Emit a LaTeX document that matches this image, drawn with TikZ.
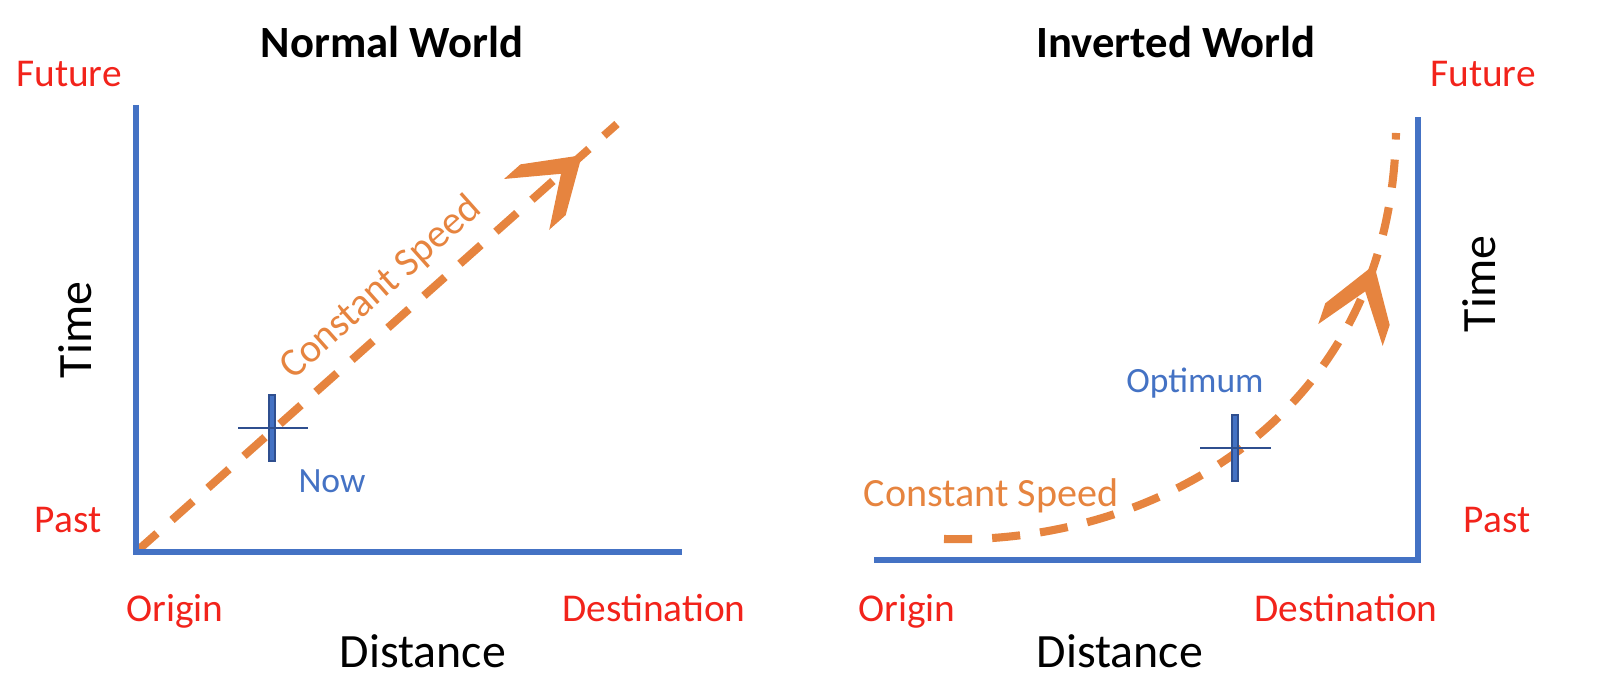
\documentclass[tikz,border=0pt]{standalone}
\usepackage{fontspec}
\setmainfont{Carlito}
\usetikzlibrary{decorations.markings}
\definecolor{axisblue}{HTML}{4472C4}
\definecolor{darkblue}{HTML}{2F4F8F}
\definecolor{speedorange}{HTML}{E6843F}
\definecolor{markred}{HTML}{F2231B}

\begin{document}
\begin{tikzpicture}[x=0.01cm, y=-0.01cm,
    axisline/.style={draw=axisblue, line width=1.6pt},
    speedline/.style={draw=speedorange, line width=2.3pt, dash pattern=on 8pt off 5.7pt},
    chev/.style={postaction={decorate, decoration={markings, mark=at position #1 with
        {\fill[speedorange, solid] (2,0) -- (-50,34) -- (-72,34) -- (-26,0) -- (-72,-34) -- (-50,-34) -- cycle;}}}},
    markbar/.style={rectangle, fill=axisblue, draw=darkblue, line width=0.5pt,
                    minimum width=0.06cm, minimum height=0.66cm, inner sep=0pt},
    markline/.style={draw=darkblue, line width=0.6pt},
    worldtitle/.style={anchor=base, inner sep=0pt, font=\fontsize{12.7}{15}\selectfont\bfseries},
    endlabel/.style={anchor=base, inner sep=0pt, text=markred, font=\fontsize{11.2}{13}\selectfont},
    axislabel/.style={anchor=base, inner sep=0pt, font=\fontsize{13.6}{16}\selectfont},
    marklabel/.style={anchor=base, inner sep=0pt, text=axisblue, font=\fontsize{10.1}{12}\selectfont},
    speedlabel/.style={anchor=base, inner sep=0pt, text=speedorange, font=\fontsize{11.4}{13}\selectfont}
  ]
  \useasboundingbox (0,0) rectangle (1600,695);

  \coordinate (lo) at (136,552);
  \coordinate (ly) at (136,105);
  \coordinate (lx) at (682,552);
  \coordinate (lend) at (617,124);
  \coordinate (ro) at (1418,560);
  \coordinate (ry) at (1418,117);
  \coordinate (rx) at (874,560);
  \coordinate (rstart) at (944,539);
  \coordinate (rend) at (1396,133);

  \node[worldtitle] (tnormal) at (392,58) {Normal World};
  \node[worldtitle] (tinverted) at (1176,58) {Inverted World};

  \draw[speedline, chev=0.924] (lo) -- (lend);
  \draw[speedline, chev=0.80] (rstart) .. controls (1150,545) and (1390,420) .. (rend);

  \draw[axisline] (ly) -- (lo) -- (lx);
  \draw[axisline] (rx) -- (ro) -- (ry);

  \node[markbar] (now) at (272,428) {};
  \draw[markline] (238,428) -- (308,428);
  \node[markbar] (optimum) at (1235,448) {};
  \draw[markline] (1200,448) -- (1271,448);

  \node[endlabel] (futl) at (69,87) {Future};
  \node[endlabel] (pastl) at (68,533) {Past};
  \node[endlabel] (origl) at (175,622) {Origin};
  \node[endlabel] (destl) at (654,622) {Destination};
  \node[axislabel] (distl) at (423,668) {Distance};
  \node[axislabel, anchor=center, rotate=90] (timel) at (75,330) {Time};

  \node[endlabel] (futr) at (1483,87) {Future};
  \node[endlabel] (pastr) at (1497,533) {Past};
  \node[endlabel] (origr) at (907,622) {Origin};
  \node[endlabel] (destr) at (1346,622) {Destination};
  \node[axislabel] (distr) at (1120,668) {Distance};
  \node[axislabel, anchor=center, rotate=90] (timer) at (1479,284) {Time};

  \node[marklabel] (nowlbl) at (332,493) {Now};
  \node[marklabel] (optlbl) at (1195,393) {Optimum};
  \node[speedlabel, anchor=center, rotate=41.7] (speedl) at (381,288) {Constant Speed};
  \node[speedlabel] (speedr) at (991,507) {Constant Speed};
\end{tikzpicture}
\end{document}
